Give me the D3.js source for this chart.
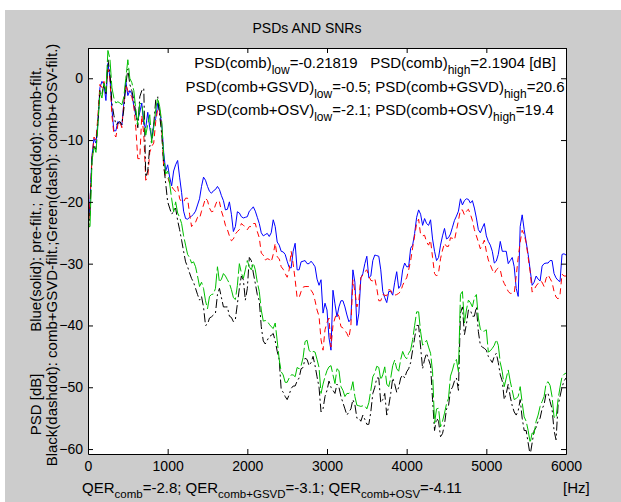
<!DOCTYPE html>
<html lang="en">
<head>
<meta charset="UTF-8">
<title>PSDs AND SNRs</title>
<style>
  body { margin: 0; background: #fff; }
  svg { display: block; }
  text { font-family: "Liberation Sans", Arial, Helvetica, sans-serif; fill: #000; }
</style>
</head>
<body>
<svg width="621" height="502"></svg>
<script src="https://cdn.jsdelivr.net/npm/d3@7"></script>
<script>
// spectra in dB, one value every 25 Hz from 0 to 6000 Hz (each row = 500 Hz)
const freqStep = 25;
const blue = [
  -24,-20, -12.5,-9.8, -10.5,-7, -1.5,-0.5, -1,-3.6, 2.4,0.2, -5,-8.5, -8.5,-7, -7.3,-7.6, -4,-0.5,
  -2.8,-2, -2.5,-4.5, -6,-6.8, -5.5,-4, -7.5,-8, -5.5,-8, -9.7,-7.5, -6.5,-4, -5.5,-7.3, -12,-15,
  -14,-16, -17.4,-15, -14,-13.3, -16,-18.5, -21.5,-22.7, -22.8,-22.5, -22.3,-22, -21.5,-20.5, -19.5,-17.5, -16,-16.5,
  -17.5,-18.3, -18.6,-18.2, -18,-17.5, -18,-19, -19.8,-21.3, -21.2,-20, -22,-24.8, -24,-21.6, -21.8,-22.4, -22.6,-22.5,
  -22.4,-21.5, -21.2,-20.8, -21.5,-22.5, -23.5,-25, -25.5,-25.3, -25.1,-25.6, -25,-22.9, -24,-26.5, -27,-28, -28.1,-28.5,
  -29.6,-30.6, -30.7,-28, -26.7,-31, -31,-29.7, -29.6,-29.5, -30,-30, -29.6,-30, -30.5,-32.5, -33.5,-32.6, -38,-36.4,
  -37.5,-42, -44,-34.3, -36.5,-38.6, -37,-36, -36,-37, -38.3,-39.4, -39,-31, -33,-40, -38,-32.3, -31.6,-30,
  -28.8,-32.3, -32,-29.5, -28.6,-28.7, -28.8,-31, -34.5,-35.5, -36.3,-34.5, -34.5,-35.1, -33,-31.3, -34,-33.5, -31,-29.9,
  -30.5,-30.5, -27.5,-27, -25.1,-22.5, -21.3,-22, -23.8,-22.7, -23.5,-23.8, -22.9,-26, -28,-29.5, -29,-27, -25.5,-24.3,
  -26,-25.8, -25.2,-24.1, -23,-22.3, -21.5,-19.5, -20.5,-19.8, -19.5,-19.6, -20.2,-19.8, -21,-22.6, -24.5,-25, -24.2,-23.5,
  -25.5,-26.4, -27,-28, -29.9,-29.6, -28.5,-26.4, -28,-28, -28,-30, -29.5,-29, -30.5,-34, -35.3,-24, -22.1,-24.5,
  -26.5,-28.5, -31,-33.5, -33,-32, -32.5,-32.8, -30.4,-30, -29.9,-29.9, -29.5,-29.5, -31.6,-32.3, -32.7,-32.9, -28.5,-28.4, -28.6];
const red = [
  -26,-20, -13,-9.5, -10,-6, -1,-1.5, -0.5,-2, 1.5,0, -6,-9, -9.5,-7.5, -7,-8, -4,-1,
  -2,-2.5, -3,-4.5, -8,-13, -13,-6, -9,-16.5, -16,-12, -11,-10.5, -7,-5, -5,-8, -14.5,-15.9,
  -16,-17, -17.5,-18, -18.3,-17.5, -19.5,-20, -20,-19.4, -19.4,-22, -24,-23.5, -23.3,-22.5, -22.7,-21.5, -20.5,-19.4,
  -19.8,-21, -21.6,-21.5, -20.5,-19.7, -20,-21.5, -22.5,-23.8, -24.5,-25.5, -26.3,-26, -25.2,-24.8, -24.5,-23.5, -23.8,-24,
  -24.5,-24, -24,-23.5, -23.5,-24.8, -25.8,-28.3, -28.6,-29.4, -29.2,-29.3, -29.7,-28.5, -26.7,-28.9, -29.2,-30.5, -30.9,-31.6,
  -32.2,-31, -28,-30, -32.6,-35.5, -35.5,-34.5, -33.8,-33.7, -33.7,-33.7, -34.3,-34.8, -36,-37.5, -38.5,-42.3, -44,-40.7,
  -39.5,-38.8, -43.5,-40, -38.8,-38, -38.5,-40.2, -40.4,-40.8, -41.3,-42, -40,-32.6, -34.5,-37, -36,-32.3, -31.8,-31.3,
  -31,-32, -32.7,-32.8, -32.4,-34, -36,-36, -35,-35.1, -35.2,-34.2, -34.3,-35, -35.1,-35, -34.8,-34.5, -33.5,-32.8,
  -32.3,-31, -29.5,-27.4, -25.5,-23.5, -22.8,-25.3, -25.5,-25.4, -26.5,-27, -26.2,-29, -31.6,-32, -31.5,-29.2, -27.8,-26.7,
  -27.2,-27.2, -25.8,-25.9, -26.2,-24.6, -23,-21.3, -21.3,-22.1, -21.5,-21.2, -22,-23, -24.5,-25.5, -26.5,-27.6, -27,-26.2,
  -28,-29.4, -30.2,-31, -31.6,-31, -30.7,-31, -32.5,-33.2, -33.8,-34.5, -34.8,-34.8, -34.8,-32, -29,-26.5, -24.6,-25.3,
  -26.6,-29, -31.3,-34.6, -34.2,-33.6, -33.2,-32.8, -33,-33.7, -32.4,-31.8, -32.4,-33, -34.5,-35.4, -35.7,-35, -31.7,-32, -32];
const green = [
  -24,-24, -13.5,-11, -12,-7.5, -2.2,-3.2, -0.8,-2.2, 4.5,3.2, -1.5,-3.2, -4,-3.8, -4,-4.3, -3,0,
  3,0, -0.7,-2, -5,-7.5, -4,-4.2, -6.5,-9.2, -7.5,-5.9, -10.5,-8, -5,-3.2, -4.6,-7, -12.5,-15.5,
  -15,-17, -19.5,-21.6, -20,-21.8, -22.5,-23.5, -25.5,-27, -28.5,-29, -29.9,-29.7, -30.5,-32, -33.7,-33, -34,-36,
  -37.3,-35.3, -35,-34.9, -34,-30.5, -33,-32.5, -31.6,-32, -32.6,-33.2, -34.2,-35.5, -35.8,-33.5, -30,-31.5, -32.4,-31,
  -29.5,-30.5, -31,-29.9, -31,-33, -34.5,-37.5, -39.3,-39.2, -39.3,-39.8, -40.2,-40.5, -39.6,-42.5, -45.5,-47.5, -48,-49.2,
  -49.2,-48.5, -48,-48, -48.3,-46.8, -47,-46.5, -45.2,-42.6, -42.4,-44, -44.4,-44.2, -44.3,-45.5, -46.8,-51, -49.5,-48.3,
  -47.3,-46.7, -46.5,-48, -49.4,-47, -47.3,-49.9, -50.5,-51.5, -51,-51, -50.5,-49.1, -51.5,-52.9, -53,-53.1, -53,-53,
  -53.5,-52.5, -50.5,-48.3, -47.7,-46.6, -46.8,-48.8, -48,-46.7, -49.5,-49.9, -48.5,-46.5, -45.6,-47, -47.4,-45.5, -44.2,-45,
  -45.4,-44.5, -44,-42.3, -40,-37.8, -37.8,-41, -43.2,-42.8, -42.4,-43.5, -44.5,-47.5, -55.8,-53.5, -53.4,-56.4, -55.5,-54.2,
  -52.7,-51.8, -48.2,-47.2, -46,-45.5, -47.5,-35, -34.5,-39.6, -37.5,-35.9, -36.3,-37, -35.5,-35, -38.8,-40.6, -41,-40.9,
  -40.7,-44.3, -44.1,-43.7, -43.2,-42.3, -43.2,-46, -47.5,-49.9, -48.5,-47.2, -49,-50.5, -52,-51.8, -51.5,-49.9, -52.5,-54.8,
  -55.5,-57, -59,-57.4, -57.5,-55.5, -54.5,-53.1, -52.3,-51.5, -49.4,-49.1, -49.7,-51.5, -54.8,-55, -52,-50, -48.3,-47.9, -47.7];
const black = [
  -25,-22, -13,-11, -11.5,-7, -2,-2.5, -1,-2.5, 3,1, -4,-6, -7.5,-7.3, -7,-7.5, -5,-1,
  1.5,-1, -2,-3.5, -5.5,-8, -3,-2, -1.6,-16, -15,-11, -10,-7.5, -3.5,-3, -6,-9, -14,-17,
  -20,-21, -22,-21.5, -21,-23, -24.5,-26.2, -28,-29.7, -30.5,-31.5, -32.4,-33, -34,-35, -35.9,-35.3, -37,-40,
  -39.8,-38.8, -38.6,-38.3, -38,-35, -34,-35.5, -37,-37, -37,-38.5, -38.7,-39.4, -39,-36.5, -34,-32, -32.6,-35.9,
  -34,-29, -29.5,-31.5, -33.2,-35, -36,-40.2, -42.5,-43, -42.4,-41.8, -41.6,-41.3, -42.5,-44.2, -45.5,-50.4, -50.8,-51.5,
  -52,-51.2, -50.2,-49.8, -49.8,-49, -48.5,-47, -46.8,-45.3, -45.5,-46.5, -46,-45, -46.5,-48.3, -50,-54, -53.5,-51.5,
  -50.5,-49, -50,-50.5, -51,-49.5, -50,-51.5, -52.5,-53.5, -54.5,-54, -53.5,-52, -52.8,-55, -55,-55.5, -54.5,-55.2,
  -56,-56, -54,-51, -50,-48.5, -48.5,-52.5, -52,-51, -54.5,-53, -51,-48.5, -49.5,-50.8, -50,-48.5, -48,-48.5,
  -47.5,-47, -46,-44, -42,-40, -40,-43.5, -47,-45.5, -44.5,-45.5, -46.5,-52, -57,-55, -55.5,-58, -57.5,-56,
  -53.5,-53, -50.5,-50, -49,-48.5, -50.5,-38, -37,-41.5, -39.8,-37.5, -37.5,-38.5, -38.5,-37, -41,-43.2, -43.5,-43.7,
  -44,-45, -45.5,-46, -45,-44.5, -46,-48, -49,-52, -51,-49.5, -51.5,-53, -54,-54.5, -53.8,-52, -55,-57,
  -57,-59, -61,-59, -57,-56.5, -55.5,-55, -53.5,-52.8, -51,-51, -52.3,-53.5, -57,-58.5, -53,-51.5, -50,-49, -48.5];

const xTicks = [0, 1000, 2000, 3000, 4000, 5000, 6000];
const yTicks = [-60, -50, -40, -30, -20, -10, 0];

const titleText = "PSDs AND SNRs";
// [text, isSubscript]
const annLines = [
  [["PSD(comb)", 0], ["low", 1], ["=-0.21819   PSD(comb)", 0], ["high", 1], ["=2.1904 [dB]", 0]],
  [["PSD(comb+GSVD)", 0], ["low", 1], ["=-0.5; PSD(comb+GSVD)", 0], ["high", 1], ["=20.6", 0]],
  [["PSD(comb+OSV)", 0], ["low", 1], ["=-2.1; PSD(comb+OSV)", 0], ["high", 1], ["=19.4", 0]]
];
const xLabelParts = [["QER", 0], ["comb", 1], ["=-2.8; QER", 0], ["comb+GSVD", 1],
  ["=-3.1; QER", 0], ["comb+OSV", 1], ["=-4.11", 0]];
const yLabel1 = "PSD [dB]          Blue(solid): pre-filt.;  Red(dot): comb-filt.";
const yLabel2 = "Black(dashdot): comb+GSVD-filt.;Green(dash): comb+OSV-filt.)";

const svg = d3.select("svg");
const L = 88, R = 566, T = 48, B = 454;

svg.append("rect")
  .attr("x", 5).attr("y", 10)
  .attr("width", 616).attr("height", 492)
  .attr("fill", "#cccccc");

svg.append("rect")
  .attr("x", L).attr("y", T)
  .attr("width", R - L).attr("height", B - T)
  .attr("fill", "#fff");

const x = d3.scaleLinear().domain([0, 6000]).range([L, R]);
const y = d3.scaleLinear().domain([-60.8, 4.9]).range([B, T]);

svg.append("defs").append("clipPath").attr("id", "plot")
  .append("rect")
  .attr("x", L).attr("y", T)
  .attr("width", R - L).attr("height", B - T);

const line = d3.line()
  .x((d, i) => x(i * freqStep))
  .y(d => y(d));

const series = [
  { vals: blue, color: "#0000ff", dash: null },
  { vals: red, color: "#ff0000", dash: "6,4" },
  { vals: black, color: "#000000", dash: "9,3,2,3" },
  { vals: green, color: "#00c000", dash: "18,3" }
];

const plot = svg.append("g").attr("clip-path", "url(#plot)");
series.forEach(s => {
  plot.append("path")
    .datum(s.vals)
    .attr("d", line)
    .attr("fill", "none")
    .attr("stroke", s.color)
    .attr("stroke-width", 1)
    .attr("stroke-dasharray", s.dash);
});

// axes, ticks pointing inward on all four sides
const fontFam = '"Liberation Sans", Arial, Helvetica, sans-serif';
function styleAxis(g) {
  g.attr("font-family", fontFam).attr("font-size", 14);
  g.select(".domain").attr("stroke", "#000");
  g.selectAll(".tick line").attr("stroke", "#000");
  g.selectAll(".tick text").attr("fill", "#000");
}

svg.append("g")
  .attr("transform", `translate(0,${B})`)
  .call(d3.axisBottom(x).tickValues(xTicks).tickFormat(d3.format("d"))
    .tickSizeInner(-5).tickSizeOuter(0).tickPadding(7))
  .call(styleAxis);

svg.append("g")
  .attr("transform", `translate(0,${T})`)
  .call(d3.axisTop(x).tickValues(xTicks).tickFormat("")
    .tickSizeInner(-5).tickSizeOuter(0))
  .call(styleAxis);

svg.append("g")
  .attr("transform", `translate(${L},0)`)
  .call(d3.axisLeft(y).tickValues(yTicks).tickFormat(d3.format("d"))
    .tickSizeInner(-5).tickSizeOuter(0).tickPadding(5))
  .call(styleAxis);

svg.append("g")
  .attr("transform", `translate(${R},0)`)
  .call(d3.axisRight(y).tickValues(yTicks).tickFormat("")
    .tickSizeInner(-5).tickSizeOuter(0))
  .call(styleAxis);

// text with subscripts
function richText(parts, px, py, anchor, size, subSize, shift) {
  const t = svg.append("text")
    .attr("x", px).attr("y", py)
    .attr("text-anchor", anchor)
    .attr("font-size", size)
    .style("white-space", "pre");
  let down = false;
  parts.forEach(([s, sub]) => {
    const ts = t.append("tspan").text(s);
    if (sub) {
      ts.attr("font-size", subSize);
      if (!down) { ts.attr("dy", shift); down = true; }
    } else if (down) {
      ts.attr("dy", -shift); down = false;
    }
  });
  return t;
}

svg.append("text")
  .attr("x", 307).attr("y", 33)
  .attr("text-anchor", "middle")
  .attr("font-size", 14)
  .text(titleText);

const annY = [68, 92, 115];
annLines.forEach((parts, i) => richText(parts, 375, annY[i], "middle", 15, 12, 6));

richText(xLabelParts, 82, 493, "start", 15, 11.5, 5);

svg.append("text")
  .attr("x", 563).attr("y", 493)
  .attr("font-size", 15)
  .text("[Hz]");

svg.append("text")
  .attr("transform", `translate(41,${(T + B) / 2}) rotate(-90)`)
  .attr("text-anchor", "middle")
  .attr("font-size", 15)
  .style("white-space", "pre")
  .text(yLabel1);

svg.append("text")
  .attr("transform", `translate(57,${(T + B) / 2 + 4}) rotate(-90)`)
  .attr("text-anchor", "middle")
  .attr("font-size", 15)
  .style("white-space", "pre")
  .text(yLabel2);
</script>
</body>
</html>
